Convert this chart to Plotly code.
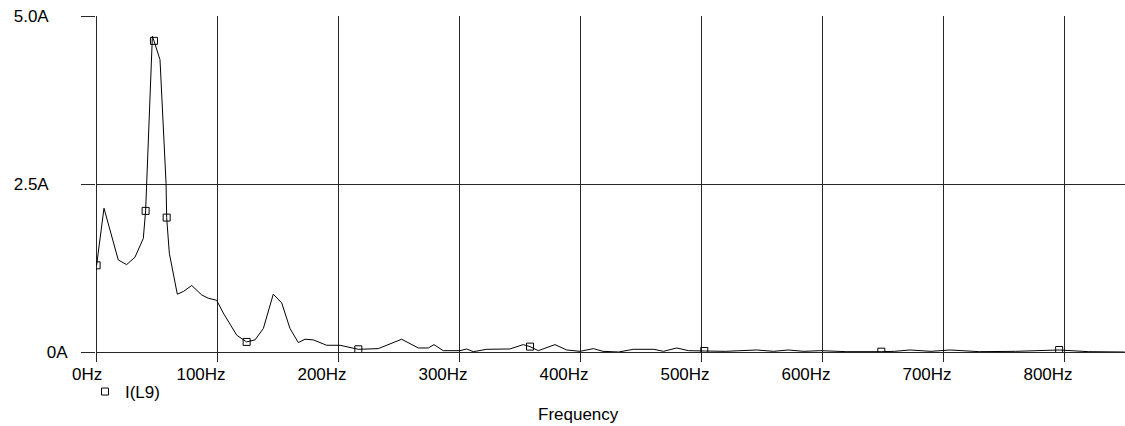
import plotly.graph_objects as go

# Spectrum of I(L9)
freq = [0.5, 6.6, 18.4, 25.3, 32.2, 39.1, 41.0, 41.9, 44.6, 46.6,
        47.9, 52.9, 57.9, 58.4, 60.6, 67.2, 72.2, 79.1, 87.3, 92.8,
        99.7, 105.2, 116.3, 124.5, 131.4, 138.3, 146.5, 153.5, 160.3, 167.2,
        172.7, 179.6, 190.6, 201.7, 216.8, 233.3, 252.6, 266.4, 274.7, 279.3,
        287.0, 300.8, 306.3, 311.8, 322.9, 342.0, 353.1, 358.7, 365.5, 379.3,
        389.0, 400.0, 411.0, 419.0, 432.0, 444.0, 461.0, 469.0, 480.0, 489.6,
        502.7, 520.0, 546.0, 560.0, 572.0, 585.0, 599.0, 620.0, 649.0, 660.0,
        672.7, 690.0, 705.8, 730.0, 760.0, 796.0, 820.0, 850.0]
current = [1.29, 2.14, 1.37, 1.30, 1.41, 1.69, 2.10, 2.51, 3.95, 4.70,
           4.63, 4.35, 2.51, 2.00, 1.47, 0.86, 0.90, 0.99, 0.85, 0.80,
           0.77, 0.58, 0.25, 0.15, 0.18, 0.35, 0.86, 0.73, 0.35, 0.14,
           0.19, 0.18, 0.10, 0.10, 0.04, 0.05, 0.19, 0.06, 0.06, 0.11,
           0.02, 0.02, 0.045, 0.005, 0.04, 0.045, 0.11, 0.08, 0.02, 0.11,
           0.03, 0.01, 0.05, 0.01, 0.0, 0.04, 0.04, 0.01, 0.06, 0.02,
           0.015, 0.01, 0.03, 0.01, 0.03, 0.01, 0.02, 0.005, 0.005, 0.01,
           0.03, 0.01, 0.03, 0.005, 0.01, 0.03, 0.005, 0.0]

# Marker points of the trace
marker_freq = [0.5, 41.0, 47.9, 58.4, 124.5, 216.8, 358.7, 502.7, 649.0, 796.0]
marker_current = [1.29, 2.10, 4.63, 2.00, 0.15, 0.04, 0.08, 0.015, 0.005, 0.03]

x_tickvals = [0, 100, 200, 300, 400, 500, 600, 700, 800]
x_ticktext = ["\u00a0\u00a0\u00a00Hz", "100Hz", "200Hz", "300Hz", "400Hz",
              "500Hz", "600Hz", "700Hz", "800Hz"]
y_tickvals = [0, 2.5, 5.0]
y_ticktext = ["0A", "2.5A" + "\u00a0" * 4, "5.0A" + "\u00a0" * 4]

series_name = "I(L9)"
x_title = "Frequency"

FONT = "Liberation Sans, Arial, sans-serif"
GRID = "#262626"

fig = go.Figure()
fig.add_trace(go.Scatter(
    x=freq, y=current, mode="lines",
    line=dict(color="#000000", width=1),
    showlegend=False, hoverinfo="skip",
))
fig.add_trace(go.Scatter(
    x=marker_freq, y=marker_current, mode="markers", name=series_name,
    marker=dict(symbol="square-open", size=7, color="#000000",
                line=dict(width=1, color="#000000")),
    showlegend=True,
))

fig.update_layout(
    width=1125, height=426,
    margin=dict(l=96, r=0, t=16, b=74, autoexpand=False),
    paper_bgcolor="#ffffff", plot_bgcolor="#ffffff",
    font=dict(family=FONT, size=17, color="#000000"),
    showlegend=True,
    legend=dict(
        x=-0.0107, xanchor="left", y=-0.119, yanchor="middle",
        bgcolor="rgba(0,0,0,0)", borderwidth=0,
        font=dict(family=FONT, size=17, color="#000000"),
    ),
    xaxis=dict(
        range=[0, 850.4], tickmode="array", tickvals=x_tickvals, ticktext=x_ticktext,
        showgrid=True, gridcolor=GRID, gridwidth=1,
        zeroline=True, zerolinecolor=GRID, zerolinewidth=1,
        showline=False,
        ticks="outside", ticklen=9, tickcolor=GRID, tickwidth=1,
        ticklabelshift=-16, ticklabelstandoff=-2,
        tickfont=dict(family=FONT, size=17, color="#000000"),
        fixedrange=True,
    ),
    yaxis=dict(
        range=[0, 5.0], tickmode="array", tickvals=y_tickvals, ticktext=y_ticktext,
        showgrid=True, gridcolor=GRID, gridwidth=1,
        zeroline=True, zerolinecolor=GRID, zerolinewidth=1,
        showline=False,
        ticks="outside", ticklen=14, tickcolor=GRID, tickwidth=1,
        ticklabelstandoff=10,
        tickfont=dict(family=FONT, size=17, color="#000000"),
        fixedrange=True,
    ),
    annotations=[dict(
        text=x_title, xref="paper", yref="paper",
        x=(578 - 96) / 1029, y=-(414 - 352) / 336,
        xanchor="center", yanchor="middle", showarrow=False,
        font=dict(family=FONT, size=17, color="#000000"),
    )],
)

fig.write_html(
    "out.html",
    config={"displayModeBar": False, "staticPlot": False},
    post_script="document.body.style.margin='0';document.body.style.overflow='hidden';",
)
